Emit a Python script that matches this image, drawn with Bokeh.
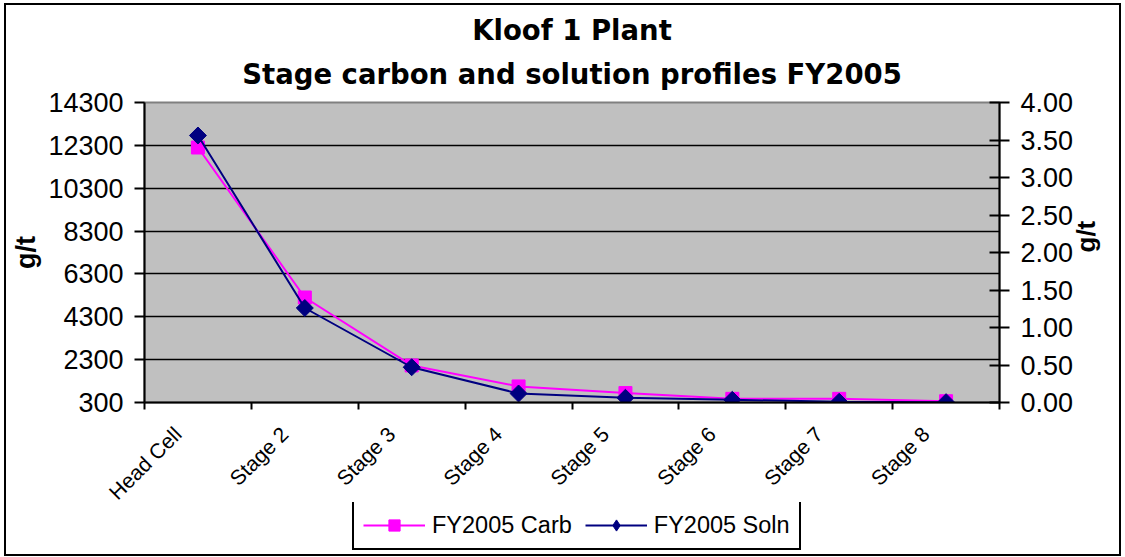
import math
from bokeh.plotting import figure
from bokeh.layouts import column
from bokeh.models import (Range1d, LinearAxis, FixedTicker, NumeralTickFormatter,
                          Legend, LegendItem, Title)
from bokeh.embed import file_html
from bokeh.resources import INLINE

categories = ["Head Cell", "Stage 2", "Stage 3", "Stage 4", "Stage 5", "Stage 6", "Stage 7", "Stage 8"]
carb = [12200, 5200, 2030, 1050, 740, 470, 470, 360]
soln = [3.56, 1.26, 0.47, 0.12, 0.063, 0.036, 0.01, 0.005]
left_ticks = [300, 2300, 4300, 6300, 8300, 10300, 12300, 14300]
right_ticks = [0, 0.5, 1.0, 1.5, 2.0, 2.5, 3.0, 3.5, 4.0]
series_names = ["FY2005 Carb", "FY2005 Soln"]
title1 = "Kloof 1 Plant"
title2 = "Stage carbon and solution profiles FY2005"

xs = [i + 0.5 for i in range(len(categories))]
label_pos = [i + 0.31 for i in range(len(categories))]

TICK_FONT = "Liberation Sans"
TITLE_FONT = "DejaVu Sans"
CARB_COLOR = "#FF00FF"
SOLN_COLOR = "#000080"

W = 1113
p = figure(width=W, height=513, output_backend="svg", toolbar_location=None,
           x_range=Range1d(0, len(categories)), y_range=Range1d(300, 14300),
           min_border_left=138, min_border_right=116, min_border_top=97, min_border_bottom=116)
p.background_fill_color = "#C0C0C0"
p.border_fill_color = "white"
p.outline_line_color = "#808080"
p.outline_line_width = 2
p.extra_y_ranges = {"right": Range1d(0, 4)}

# titles: title1 on top, title2 next to the plot
p.title.text = title1
p.title.align = "center"
p.title.text_font = TITLE_FONT
p.title.text_font_style = "bold"
p.title.text_font_size = "27.5px"
p.title.text_color = "black"
p.title.standoff = -5
t2 = Title(text=title2, align="center", text_font=TITLE_FONT, text_font_style="bold",
           text_font_size="27.5px", text_color="black", standoff=25)
p.add_layout(t2, "above")

# grid
p.xgrid.visible = False
p.ygrid.ticker = FixedTicker(ticks=left_ticks[1:-1])
p.ygrid.grid_line_color = "black"
p.ygrid.grid_line_width = 1.5

# x axis
xa = p.xaxis[0]
xa.ticker = FixedTicker(ticks=label_pos, minor_ticks=list(range(len(categories) + 1)))
xa.major_label_overrides = {x: c for x, c in zip(label_pos, categories)}
xa.major_tick_out = 0
xa.major_tick_in = 0
xa.minor_tick_out = 7
xa.minor_tick_in = 0
xa.minor_tick_line_color = "black"
xa.minor_tick_line_width = 2
xa.axis_line_color = "black"
xa.axis_line_width = 2
xa.major_label_orientation = math.pi / 4
xa.major_label_text_font = TICK_FONT
xa.major_label_text_font_size = "21px"
xa.major_label_text_color = "black"
xa.major_label_standoff = 21

# left axis
ya = p.yaxis[0]
ya.ticker = FixedTicker(ticks=left_ticks)
ya.minor_tick_line_color = None
ya.major_tick_out = 10
ya.major_tick_in = 0
ya.major_tick_line_width = 2
ya.major_tick_line_color = "black"
ya.axis_line_width = 2
ya.axis_line_color = "black"
ya.major_label_text_font = TICK_FONT
ya.major_label_text_font_size = "27px"
ya.major_label_text_color = "black"
ya.major_label_standoff = 11
ya.axis_label = "g/t"
ya.axis_label_text_font = TICK_FONT
ya.axis_label_text_font_size = "27px"
ya.axis_label_text_font_style = "bold"
ya.axis_label_text_color = "black"
ya.axis_label_standoff = 4

# right axis
ra = LinearAxis(y_range_name="right", ticker=FixedTicker(ticks=right_ticks),
                formatter=NumeralTickFormatter(format="0.00"))
ra.minor_tick_line_color = None
ra.major_tick_out = 10
ra.major_tick_in = 10
ra.major_tick_line_width = 2
ra.major_tick_line_color = "black"
ra.axis_line_width = 2
ra.axis_line_color = "black"
ra.major_label_text_font = TICK_FONT
ra.major_label_text_font_size = "27px"
ra.major_label_text_color = "black"
ra.major_label_standoff = 11
ra.axis_label = "g/t"
ra.axis_label_orientation = math.pi / 2
ra.axis_label_text_font = TICK_FONT
ra.axis_label_text_font_size = "26px"
ra.axis_label_text_font_style = "bold"
ra.axis_label_text_color = "black"
ra.axis_label_standoff = 10
p.add_layout(ra, "right")

# series
p.line(xs, carb, line_color=CARB_COLOR, line_width=2)
p.scatter(xs, carb, marker="square", size=13, fill_color=CARB_COLOR, line_color=CARB_COLOR)
p.line(xs, soln, line_color=SOLN_COLOR, line_width=2, y_range_name="right")
p.scatter(xs, soln, marker="square", angle=math.pi / 4, size=12,
          fill_color=SOLN_COLOR, line_color=SOLN_COLOR, y_range_name="right")

# legend strip (its own small figure; the series glyphs there lie outside its view)
lg = figure(width=W, height=52, output_backend="svg", toolbar_location=None,
            x_range=Range1d(100, 101), y_range=Range1d(100, 101),
            x_axis_type=None, y_axis_type=None,
            min_border_left=0, min_border_right=0, min_border_top=0, min_border_bottom=0)
lg.outline_line_color = None
lg.grid.visible = False
lg.background_fill_alpha = 0
lg.border_fill_alpha = 0
lg.styles = {"margin-top": "-16px"}
c_line = lg.line(xs, carb, line_color=CARB_COLOR, line_width=2)
c_mark = lg.scatter(xs, carb, marker="square", size=11, fill_color=CARB_COLOR, line_color=CARB_COLOR)
s_line = lg.line(xs, soln, line_color=SOLN_COLOR, line_width=2)
s_mark = lg.scatter(xs, soln, marker="diamond", size=15, fill_color=SOLN_COLOR, line_color=SOLN_COLOR)

legend = Legend(items=[LegendItem(label=series_names[0], renderers=[c_line, c_mark]),
                       LegendItem(label=series_names[1], renderers=[s_line, s_mark])],
                orientation="horizontal", location=(208, 4))
legend.border_line_color = "black"
legend.border_line_alpha = 1
legend.border_line_width = 2
legend.background_fill_color = "white"
legend.background_fill_alpha = 1
legend.label_text_font = TICK_FONT
legend.label_text_font_size = "23.5px"
legend.label_text_color = "black"
legend.glyph_width = 62
legend.glyph_height = 28
legend.label_standoff = 7
legend.spacing = 13
legend.padding = 9
legend.margin = 0
lg.add_layout(legend, "center")

layout = column(p, lg, spacing=0)
layout.styles = {"border": "2px solid black", "margin-left": "4px", "margin-top": "3px"}

open("out.html", "w").write(file_html(layout, INLINE))
